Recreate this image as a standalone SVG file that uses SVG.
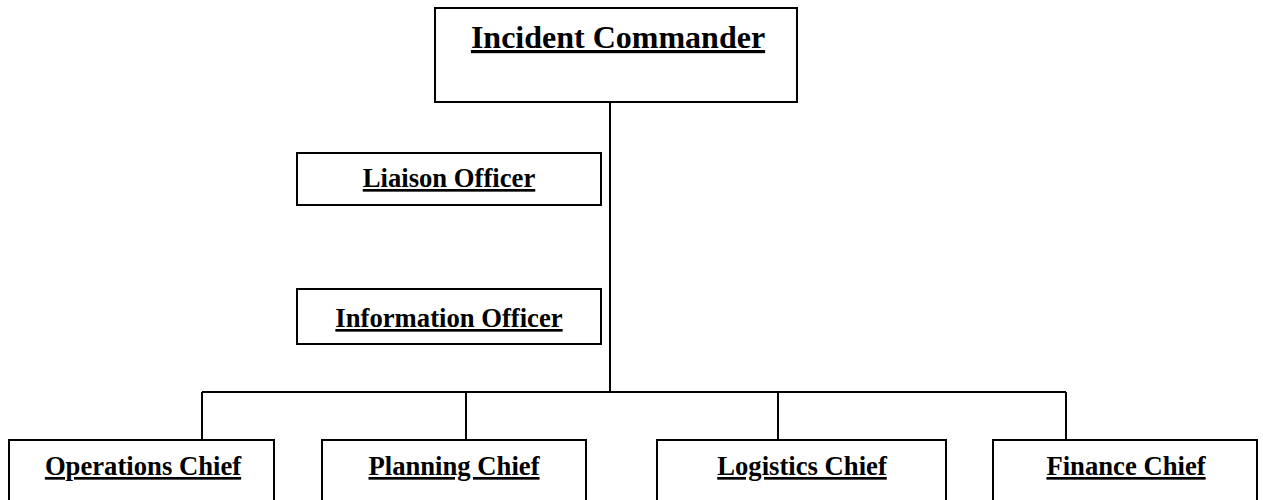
<svg xmlns="http://www.w3.org/2000/svg" width="1263" height="500" viewBox="0 0 1263 500">
  <style>
    .box { fill: #ffffff; stroke: #000000; stroke-width: 2; }
    .wire { fill: none; stroke: #000000; stroke-width: 2; }
    .lbl { font-family: "Liberation Serif", "Times New Roman", serif; font-weight: bold; fill: #000000; text-anchor: middle; text-decoration: underline; }
    .big { font-size: 32px; }
    .med { font-size: 26.67px; }
  </style>
  <rect x="0" y="0" width="1263" height="500" fill="#ffffff"/>

  <!-- reporting lines -->
  <g id="connectors">
    <path class="wire" d="M610 102 V392"/>
    <path class="wire" d="M202 392 H1066"/>
    <path class="wire" d="M202 392 V440"/>
    <path class="wire" d="M466 392 V440"/>
    <path class="wire" d="M778 392 V440"/>
    <path class="wire" d="M1066 392 V440"/>
  </g>

  <g id="incident-commander">
    <rect class="box" x="435" y="8" width="362" height="94"/>
    <text class="lbl big" x="618" y="48">Incident Commander</text>
  </g>

  <g id="liaison-officer">
    <rect class="box" x="297" y="153" width="304" height="52"/>
    <text class="lbl med" x="449" y="187">Liaison Officer</text>
  </g>

  <g id="information-officer">
    <rect class="box" x="297" y="289" width="304" height="55"/>
    <text class="lbl med" x="449" y="327">Information Officer</text>
  </g>

  <g id="operations-chief">
    <rect class="box" x="9" y="440" width="265" height="80"/>
    <text class="lbl med" x="143" y="475">Operations Chief</text>
  </g>

  <g id="planning-chief">
    <rect class="box" x="322" y="440" width="264" height="80"/>
    <text class="lbl med" x="454" y="475">Planning Chief</text>
  </g>

  <g id="logistics-chief">
    <rect class="box" x="657" y="440" width="289" height="80"/>
    <text class="lbl med" x="802" y="475">Logistics Chief</text>
  </g>

  <g id="finance-chief">
    <rect class="box" x="993" y="440" width="264" height="80"/>
    <text class="lbl med" x="1126" y="475">Finance Chief</text>
  </g>
</svg>
